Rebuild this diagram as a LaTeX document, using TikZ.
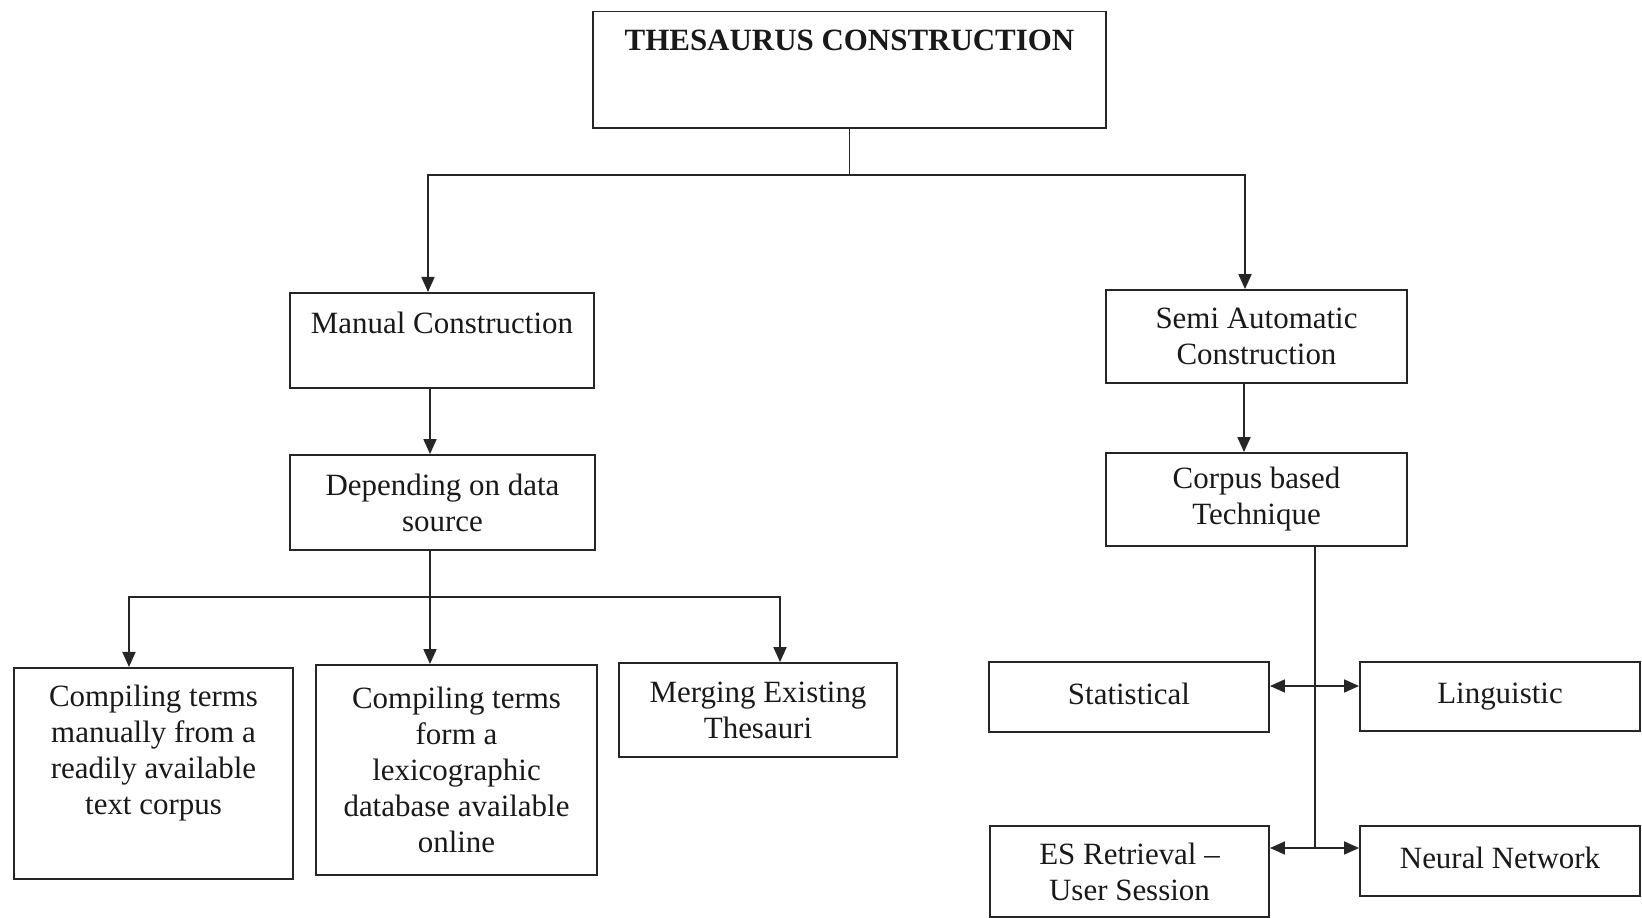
\documentclass[tikz,border=0pt]{standalone}
\usepackage{fontspec}
\setmainfont{Liberation Serif}
\usetikzlibrary{arrows.meta}

\begin{document}
\begin{tikzpicture}[x=0.01cm,y=-0.01cm,draw=black!85,line width=0.5pt]
    \tikzstyle{box}=[draw,rectangle,inner sep=0pt,align=center,text=black!90,font=\fontsize{8.8}{10.24}\selectfont]
    \tikzstyle{link}=[-{Triangle[length=0.15cm,width=0.13cm]}]
    \tikzstyle{twoway}=[{Triangle[length=0.15cm,width=0.13cm]}-{Triangle[length=0.15cm,width=0.13cm]}]

    \useasboundingbox (0,0) rectangle (1642,918);

    % Root node
    \node[box,anchor=north,minimum width=5.13cm,text height=0.395cm,text depth=0.77cm,
          font=\fontsize{8.8}{10.24}\selectfont\bfseries] (T) at (849.5,10.5) {THESAURUS CONSTRUCTION};

    % Manual branch
    \node[box,anchor=north,minimum width=3.04cm,text height=0.41cm,text depth=0.54cm] (MC) at (442,292) {Manual Construction};
    \node[box,minimum width=3.05cm,minimum height=0.95cm] (DS) at (442.5,502.5) {Depending on data\\source};
    \node[box,align=flush center,anchor=north,text width=2.79cm,text height=0.39cm,text depth=1.72cm] (C-1) at (153.5,667)
        {Compiling terms\\manually from a\\readily available\\text corpus};
    \node[box,minimum width=2.81cm,minimum height=2.10cm] (C-2) at (456.5,770)
        {Compiling terms\\form a\\lexicographic\\database available\\online};
    \node[box,minimum width=2.78cm,minimum height=0.94cm] (C-3) at (758,710) {Merging Existing\\Thesauri};

    % Semi automatic branch
    \node[box,minimum width=3.01cm,minimum height=0.93cm] (SC) at (1256.5,336.5) {Semi Automatic\\Construction};
    \node[box,minimum width=3.01cm,minimum height=0.93cm] (CT) at (1256.5,499.5) {Corpus based\\Technique};
    \node[box,minimum width=2.80cm,minimum height=0.70cm,text depth=0.07cm] (S-1) at (1129,697) {Statistical};
    \node[box,minimum width=2.80cm,minimum height=0.69cm] (S-2) at (1500,696.5) {Linguistic};
    \node[box,minimum width=2.79cm,minimum height=0.91cm] (S-3) at (1129.5,871.5) {ES Retrieval --\\User Session};
    \node[box,minimum width=2.80cm,minimum height=0.70cm,text depth=0.07cm] (S-4) at (1500,861) {Neural Network};

    % Split below the root
    \coordinate (tsplit) at ([yshift=-0.46cm]T.south);
    \draw (T.south) -- (tsplit);
    \draw[link] (tsplit) -| ([xshift=-0.14cm]MC.north);
    \draw[link] (tsplit) -| ([xshift=-0.115cm]SC.north);

    % Manual construction down to the data sources
    \draw[link] ([xshift=-0.12cm]MC.south) -- ([xshift=-0.125cm]DS.north);
    \coordinate (dsplit) at ([xshift=-0.125cm,yshift=-0.46cm]DS.south);
    \draw ([xshift=-0.125cm]DS.south) -- (dsplit);
    \draw[link] (dsplit) -| ([xshift=-0.245cm]C-1.north);
    \draw[link] (dsplit) -- (dsplit |- C-2.north);
    \draw[link] (dsplit) -| ([xshift=0.22cm]C-3.north);

    % Semi automatic construction down to the techniques
    \draw[link] ([xshift=-0.125cm]SC.south) -- ([xshift=-0.125cm]CT.north);
    \coordinate (cstem) at ([xshift=0.585cm]CT.south);
    \coordinate (upper) at ([yshift=0.11cm]S-1.east);
    \coordinate (lower) at ([yshift=0.235cm]S-3.east);
    \draw (cstem) -- (cstem |- lower);
    \draw[twoway] (upper) -- (upper -| S-2.west);
    \draw[twoway] (lower) -- (lower -| S-4.west);
\end{tikzpicture}
\end{document}
